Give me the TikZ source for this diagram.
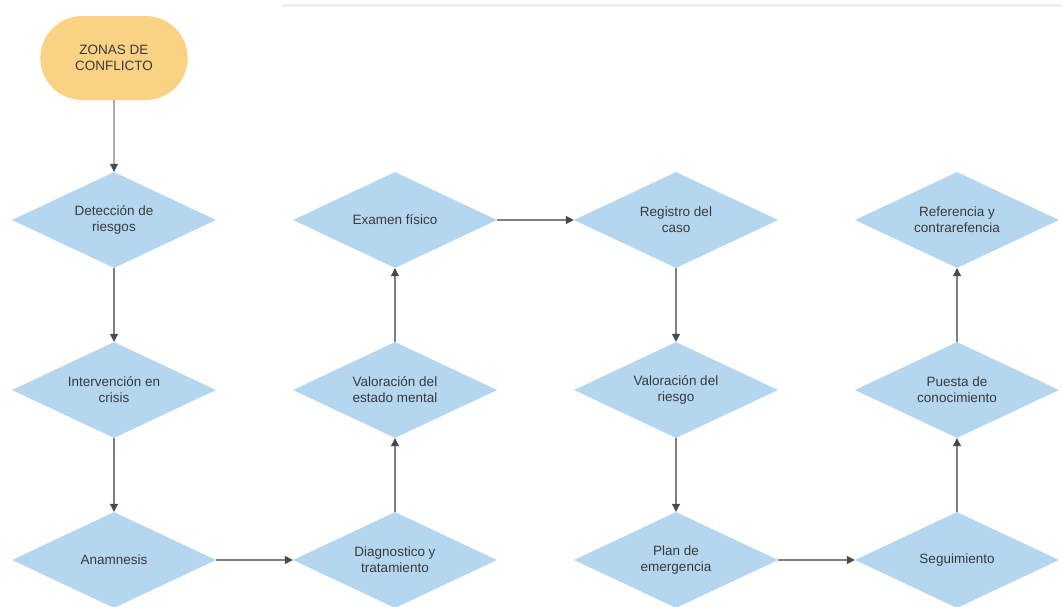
\documentclass[tikz,border=0pt]{standalone}
\usepackage{fontspec}
\setmainfont{Liberation Sans}
\usetikzlibrary{shapes.geometric,shapes.misc,arrows.meta}
\definecolor{dfill}{HTML}{B4D6EE}
\definecolor{tfill}{HTML}{F9D283}
\definecolor{tcol}{HTML}{3A3A3A}
\definecolor{lcol}{HTML}{808080}
\definecolor{acol}{HTML}{4A4A4A}
\tikzset{
  dia/.style={diamond, aspect=2.125, fill=dfill, draw=none, inner sep=0pt, minimum width=204pt, minimum height=96pt, align=center, text=tcol, font=\fontsize{13.5}{16}\selectfont},
  term/.style={rounded rectangle, fill=tfill, draw=none, minimum width=154pt, minimum height=84pt, align=center, text=tcol, font=\fontsize{13.5}{16}\selectfont},
  conn/.style={draw=lcol, line width=1.1pt, -{Triangle[length=8pt,width=8pt,fill=acol,color=acol]}}
}
\begin{document}
\begin{tikzpicture}[x=1pt,y=-1pt]
\useasboundingbox (0,0) rectangle (1062,606);
\fill[white] (0,0) rectangle (1062,606);
\fill[black!6] (282,4) rectangle (1062,6.5);
\node[term] (z) at (114,58) {ZONAS DE\\CONFLICTO};
\node[dia] (d1) at (114,220) {Detección de\\riesgos};
\node[dia] (d2) at (114,390) {Intervención en\\crisis};
\node[dia] (d3) at (114,560) {Anamnesis};
\node[dia] (e3) at (395,560) {Diagnostico y\\tratamiento};
\node[dia] (e2) at (395,390) {Valoración del\\estado mental};
\node[dia] (e1) at (395,220) {Examen físico};
\node[dia] (f1) at (676,220) {Registro del\\caso};
\node[dia] (f2) at (676,390) {Valoración del\\riesgo};
\node[dia] (f3) at (676,560) {Plan de\\emergencia};
\node[dia] (g3) at (957,560) {Seguimiento};
\node[dia] (g2) at (957,390) {Puesta de\\conocimiento};
\node[dia] (g1) at (957,220) {Referencia y\\contrarefencia};
\draw[conn] (z) -- (d1);
\draw[conn] (d1) -- (d2);
\draw[conn] (d2) -- (d3);
\draw[conn] (d3) -- (e3);
\draw[conn] (e3) -- (e2);
\draw[conn] (e2) -- (e1);
\draw[conn] (e1) -- (f1);
\draw[conn] (f1) -- (f2);
\draw[conn] (f2) -- (f3);
\draw[conn] (f3) -- (g3);
\draw[conn] (g3) -- (g2);
\draw[conn] (g2) -- (g1);
\end{tikzpicture}
\end{document}
